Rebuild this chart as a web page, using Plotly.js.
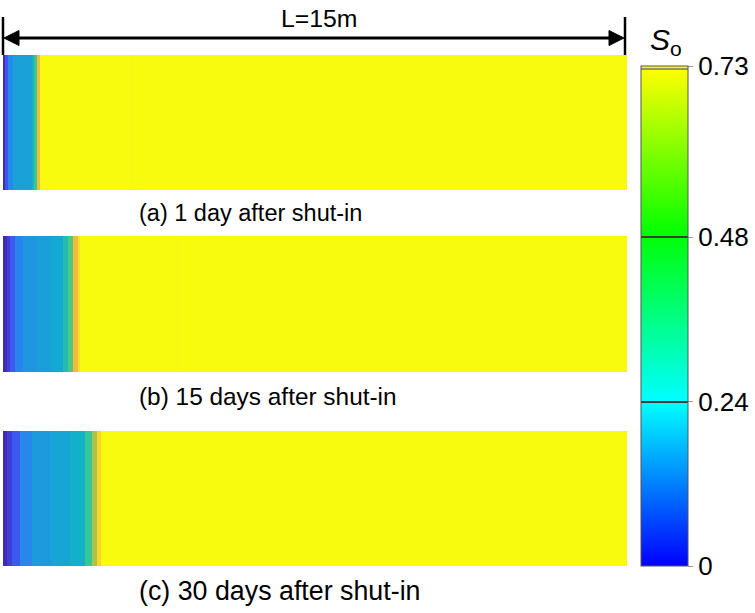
<!DOCTYPE html>
<html lang="en">
<head>
    <meta charset="UTF-8">
    <title>Oil saturation after shut-in</title>
    <script src="https://cdn.plot.ly/plotly-3.0.1.min.js"></script>
    <style>
        body { margin: 0; background: #ffffff; }
        #plot { width: 755px; height: 613px; }
    </style>
</head>
<body>
    <div id="plot"></div>
    <script>
        // cell edges along the 15 m matrix block (m) and oil saturation in each cell
        const edgesA = [0, 0.048, 0.12, 0.24, 0.70, 0.75, 0.82, 0.89, 3.08, 3.12, 15];
        const soA    = [0.015, 0.09, 0.19, 0.245, 0.31, 0.37, 0.57, 0.73, 0.72, 0.73];

        const edgesB = [0, 0.096, 0.17, 0.29, 0.48, 0.82, 1.13, 1.44, 1.56, 1.68, 1.80, 1.85, 4.18, 4.23, 15];
        const soB    = [0.015, 0.05, 0.10, 0.175, 0.215, 0.24, 0.27, 0.33, 0.39, 0.57, 0.67, 0.73, 0.72, 0.73];

        const edgesC = [0, 0.096, 0.22, 0.41, 0.70, 1.13, 1.61, 1.97, 2.14, 2.26, 2.36, 15];
        const soC    = [0.015, 0.05, 0.10, 0.18, 0.225, 0.26, 0.295, 0.365, 0.475, 0.64, 0.73];

        const panelLabels = ['(a) 1 day after shut-in', '(b) 15 days after shut-in', '(c) 30 days after shut-in'];
        const cbTicks = [0, 0.24, 0.48, 0.73];
        const soMax = 0.73;

        const W = 755, H = 613;
        const FONT = '"Liberation Sans", Arial, sans-serif';

        // parula-like map for the panels
        const parula = [
            [0.00, 'rgb(62,38,168)'],
            [0.10, 'rgb(70,72,236)'],
            [0.20, 'rgb(46,120,246)'],
            [0.30, 'rgb(30,152,223)'],
            [0.40, 'rgb(15,176,204)'],
            [0.50, 'rgb(55,198,150)'],
            [0.60, 'rgb(135,200,95)'],
            [0.70, 'rgb(215,188,62)'],
            [0.80, 'rgb(252,186,56)'],
            [0.90, 'rgb(245,222,40)'],
            [1.00, 'rgb(249,251,14)']
        ];

        // map shown in the colour bar, with thin dark lines at the inner ticks
        const cyan = 'rgb(0,255,255)', green = 'rgb(0,255,0)', line = 'rgb(60,60,60)';
        const f1 = 0.24 / soMax, f2 = 0.48 / soMax, d = 0.0022;
        const barScale = [
            [0, 'rgb(0,0,255)'],
            [f1 - d, cyan], [f1 - d, line], [f1 + d, line], [f1 + d, cyan],
            [f2 - d, 'rgb(0,255,10)'], [f2 - d, line], [f2 + d, line], [f2 + d, green],
            [0.994 - d, 'rgb(252,255,0)'], [0.994 - d, 'rgb(150,150,90)'], [0.994 + d, 'rgb(150,150,90)'], [0.994 + d, 'rgb(255,255,0)'],
            [1, 'rgb(255,255,0)']
        ];

        // pixel rows of each panel (top, bottom)
        const panelRows = [[55, 190], [236, 372], [431, 566]];
        const labelRows = [213, 396, 591];
        const labelSizes = [23.5, 24.4, 26.8];
        const px = v => v / W;
        const py = v => 1 - v / H;

        const panels = [[edgesA, soA], [edgesB, soB], [edgesC, soC]];
        const traces = panels.map(([edges, so], i) => ({
            type: 'heatmap',
            x: edges,
            y: [0, 1],
            z: [so],
            zmin: 0,
            zmax: soMax,
            colorscale: parula,
            showscale: false,
            zsmooth: false,
            xaxis: 'x',
            yaxis: i === 0 ? 'y' : 'y' + (i + 1),
            hoverinfo: 'skip'
        }));

        // colour bar only
        const barBottom = 566, barTop = 66;
        traces.push({
            type: 'scatter',
            mode: 'markers',
            x: [null],
            y: [null],
            xaxis: 'x',
            yaxis: 'y',
            showlegend: false,
            marker: {
                color: [0],
                cmin: 0,
                cmax: soMax,
                colorscale: barScale,
                showscale: true,
                colorbar: {
                    x: px(641), xanchor: 'left', xpad: 0,
                    y: py(barBottom), yanchor: 'bottom', ypad: 0,
                    thickness: 47, thicknessmode: 'pixels',
                    len: barBottom - barTop, lenmode: 'pixels',
                    outlinewidth: 1, outlinecolor: '#555',
                    tickvals: cbTicks,
                    ticktext: cbTicks.map(String),
                    ticks: 'outside', ticklen: 5, tickcolor: '#999',
                    tickfont: { family: FONT, size: 26, color: '#000' }
                }
            }
        });

        const hidden = { visible: false, fixedrange: true };
        const layout = {
            width: W,
            height: H,
            margin: { l: 0, r: 0, t: 0, b: 0 },
            paper_bgcolor: '#ffffff',
            plot_bgcolor: '#ffffff',
            showlegend: false,
            xaxis: Object.assign({ domain: [px(3), px(627)], range: [0, 15], anchor: 'y' }, hidden),
            shapes: [],
            annotations: []
        };
        panelRows.forEach(([top, bottom], i) => {
            const key = i === 0 ? 'yaxis' : 'yaxis' + (i + 1);
            layout[key] = Object.assign({ domain: [py(bottom), py(top)], range: [0, 1], anchor: 'x' }, hidden);
            layout.annotations.push({
                xref: 'paper', yref: 'paper',
                x: px(137), y: py(labelRows[i]),
                xanchor: 'left', yanchor: 'middle',
                text: panelLabels[i], showarrow: false,
                font: { family: FONT, size: labelSizes[i], color: '#000' }
            });
        });

        // L = 15 m dimension line with arrowheads and end bars
        const ay = 38, head = 15, half = 7.5;
        const left = 4, right = 624;
        const seg = (x0, y0, x1, y1, w) => ({
            type: 'line', xref: 'paper', yref: 'paper',
            x0: px(x0), x1: px(x1), y0: py(y0), y1: py(y1),
            line: { color: '#000', width: w }
        });
        const tri = (tip, dir) => ({
            type: 'path', xref: 'paper', yref: 'paper',
            path: 'M' + px(tip) + ',' + py(ay) +
                  ' L' + px(tip + dir * head) + ',' + py(ay - half) +
                  ' L' + px(tip + dir * head) + ',' + py(ay + half) + ' Z',
            fillcolor: '#000', line: { color: '#000', width: 1 }
        });
        layout.shapes.push(
            seg(3, 17, 3, 55, 2.5),
            seg(625, 17, 625, 55, 2.5),
            seg(left + head - 2, ay, right - head + 2, ay, 3),
            tri(left, 1),
            tri(right, -1)
        );

        layout.annotations.push(
            { xref: 'paper', yref: 'paper', x: px(319), y: py(19), xanchor: 'center', yanchor: 'middle',
              text: 'L=15m', showarrow: false, font: { family: FONT, size: 24.8, color: '#000' } },
            { xref: 'paper', yref: 'paper', x: px(648), y: py(41), xanchor: 'left', yanchor: 'middle',
              text: '<i>S</i><sub>o</sub>', showarrow: false, font: { family: FONT, size: 30, color: '#000' } }
        );

        Plotly.newPlot('plot', traces, layout, { displayModeBar: false, staticPlot: true });
    </script>
</body>
</html>
